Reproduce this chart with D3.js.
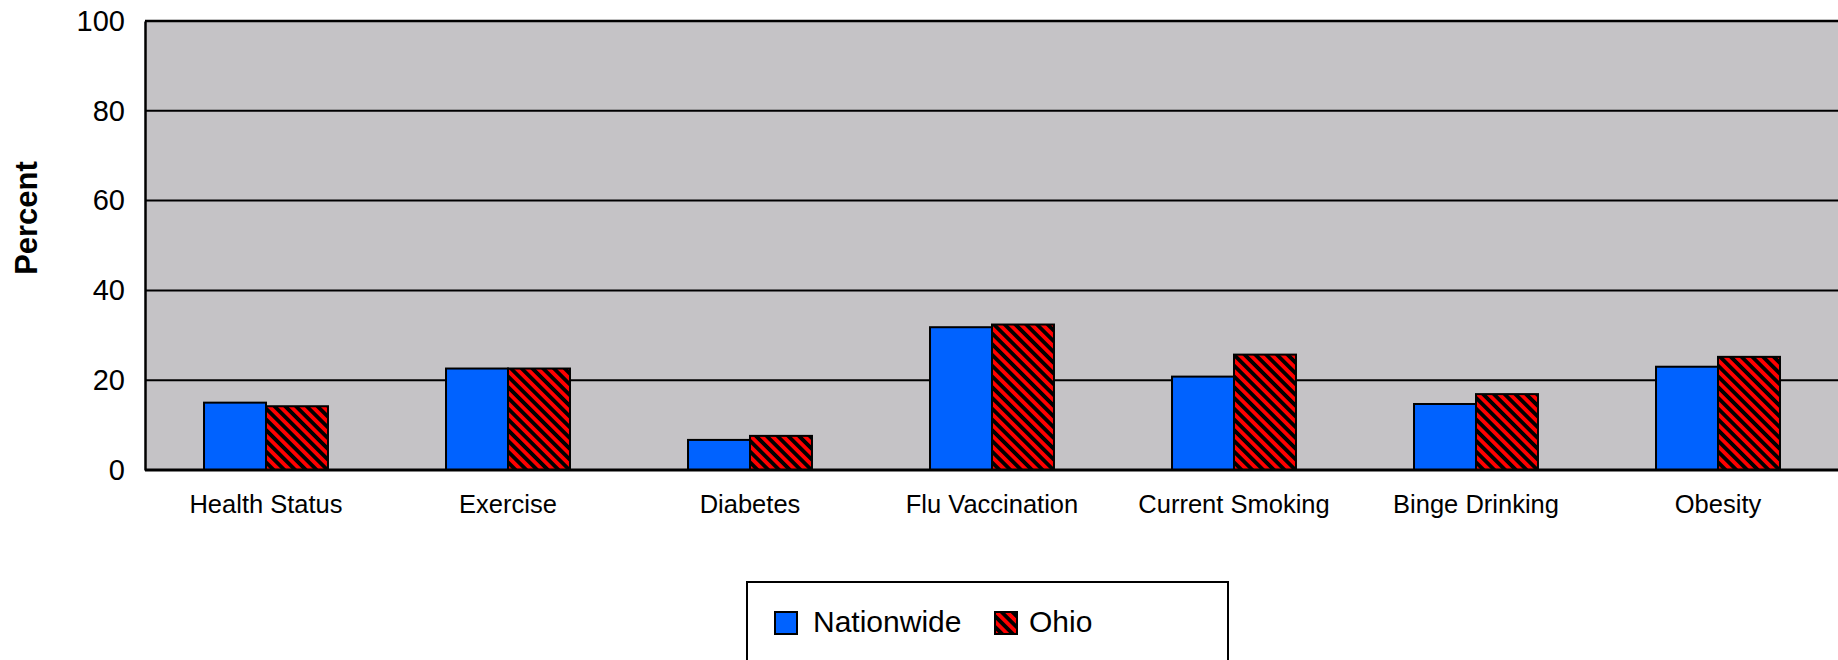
<!DOCTYPE html>
<html>
<head>
<meta charset="utf-8">
<script src="https://cdn.jsdelivr.net/npm/d3@7"></script>
<style>
  html, body { margin: 0; padding: 0; background: #ffffff; }
  svg { display: block; }
  text { font-family: Arial, "Liberation Sans", sans-serif; fill: #000; }
</style>
</head>
<body>
<svg id="chart" width="1838" height="660"></svg>
<script>
const categories = ["Health Status", "Exercise", "Diabetes", "Flu Vaccination", "Current Smoking", "Binge Drinking", "Obesity"];
const seriesNames = ["Nationwide", "Ohio"];
const nationwide = [15.0, 22.6, 6.7, 31.8, 20.8, 14.7, 23.0];
const ohio = [14.2, 22.6, 7.6, 32.4, 25.7, 16.9, 25.2];
const yTicks = [0, 20, 40, 60, 80, 100];

(function () {
const plotL = 145, plotR = 1839, plotT = 21, plotB = 470;

const svg = d3.select("#chart");
const defs = svg.append("defs");
const pat = defs.append("pattern")
  .attr("id", "hatch")
  .attr("patternUnits", "userSpaceOnUse")
  .attr("width", 7.6).attr("height", 7.6)
  .attr("patternTransform", "rotate(-45)");
pat.append("rect").attr("width", 7.6).attr("height", 7.6).attr("fill", "#ff0000");
pat.append("rect").attr("width", 3.8).attr("height", 7.6).attr("fill", "#000000");

const colors = { "Nationwide": "#0062ff", "Ohio": "url(#hatch)" };

const x0 = d3.scaleBand().domain(categories).range([plotL, plotR]).paddingInner(0).paddingOuter(0);
const x1 = d3.scaleBand().domain(seriesNames).range([0, x0.bandwidth()]).paddingInner(0).paddingOuter(0.952);
const y = d3.scaleLinear().domain([0, 100]).range([plotB, plotT]);

// plot background
svg.append("rect")
  .attr("x", plotL).attr("y", plotT)
  .attr("width", plotR - plotL).attr("height", plotB - plotT)
  .attr("fill", "#c5c3c6");

// gridlines
svg.append("g").selectAll("line")
  .data(yTicks.filter(d => d > 0 && d < 100))
  .join("line")
  .attr("x1", plotL).attr("x2", plotR)
  .attr("y1", d => y(d)).attr("y2", d => y(d))
  .attr("stroke", "#000").attr("stroke-width", 2);

// top border
svg.append("line")
  .attr("x1", plotL).attr("x2", plotR)
  .attr("y1", y(100)).attr("y2", y(100))
  .attr("stroke", "#000").attr("stroke-width", 2.5);

// bars
const rows = categories.map((c, i) => ({ cat: c, vals: [
  { s: "Nationwide", v: nationwide[i] },
  { s: "Ohio", v: ohio[i] }
]}));

svg.append("g").selectAll("g")
  .data(rows)
  .join("g")
  .attr("transform", d => `translate(${x0(d.cat)},0)`)
  .selectAll("rect")
  .data(d => d.vals)
  .join("rect")
  .attr("x", d => x1(d.s))
  .attr("width", x1.bandwidth())
  .attr("y", d => y(d.v))
  .attr("height", d => y(0) - y(d.v))
  .attr("fill", d => colors[d.s])
  .attr("stroke", "#000")
  .attr("stroke-width", 2);

// y axis
const yAxis = svg.append("g")
  .attr("transform", `translate(${plotL},0)`)
  .call(d3.axisLeft(y).tickValues(yTicks).tickSize(0).tickPadding(20).tickFormat(d3.format("d")));
yAxis.select(".domain").attr("stroke", "#000").attr("stroke-width", 2.5);
yAxis.selectAll("text").style("font-size", "29px").attr("font-family", "Arial, 'Liberation Sans', sans-serif");

// x axis
const xAxis = svg.append("g")
  .attr("transform", `translate(0,${plotB})`)
  .call(d3.axisBottom(x0).tickSize(0).tickPadding(25));
xAxis.select(".domain").remove();
xAxis.selectAll("text").style("font-size", "25.5px").attr("font-family", "Arial, 'Liberation Sans', sans-serif");

// baseline
svg.append("line")
  .attr("x1", plotL).attr("x2", plotR)
  .attr("y1", y(0)).attr("y2", y(0))
  .attr("stroke", "#000").attr("stroke-width", 3);

// y title
svg.append("text")
  .attr("transform", `translate(37,218) rotate(-90)`)
  .attr("text-anchor", "middle")
  .style("font-size", "31px")
  .style("font-weight", "bold")
  .text("Percent");

// legend
const lg = svg.append("g");
lg.append("rect")
  .attr("x", 747).attr("y", 582)
  .attr("width", 481).attr("height", 120)
  .attr("fill", "#fff").attr("stroke", "#000").attr("stroke-width", 2);

const legendItems = [
  { s: "Nationwide", sx: 775, tx: 813 },
  { s: "Ohio", sx: 995, tx: 1029 }
];
const li = lg.selectAll("g.item").data(legendItems).join("g").attr("class", "item");
li.append("rect")
  .attr("x", d => d.sx).attr("y", 612)
  .attr("width", 22).attr("height", 22)
  .attr("fill", d => colors[d.s])
  .attr("stroke", "#000").attr("stroke-width", 2);
li.append("text")
  .attr("x", d => d.tx).attr("y", 632)
  .style("font-size", "30px")
  .text(d => d.s);
})();
</script>
</body>
</html>
